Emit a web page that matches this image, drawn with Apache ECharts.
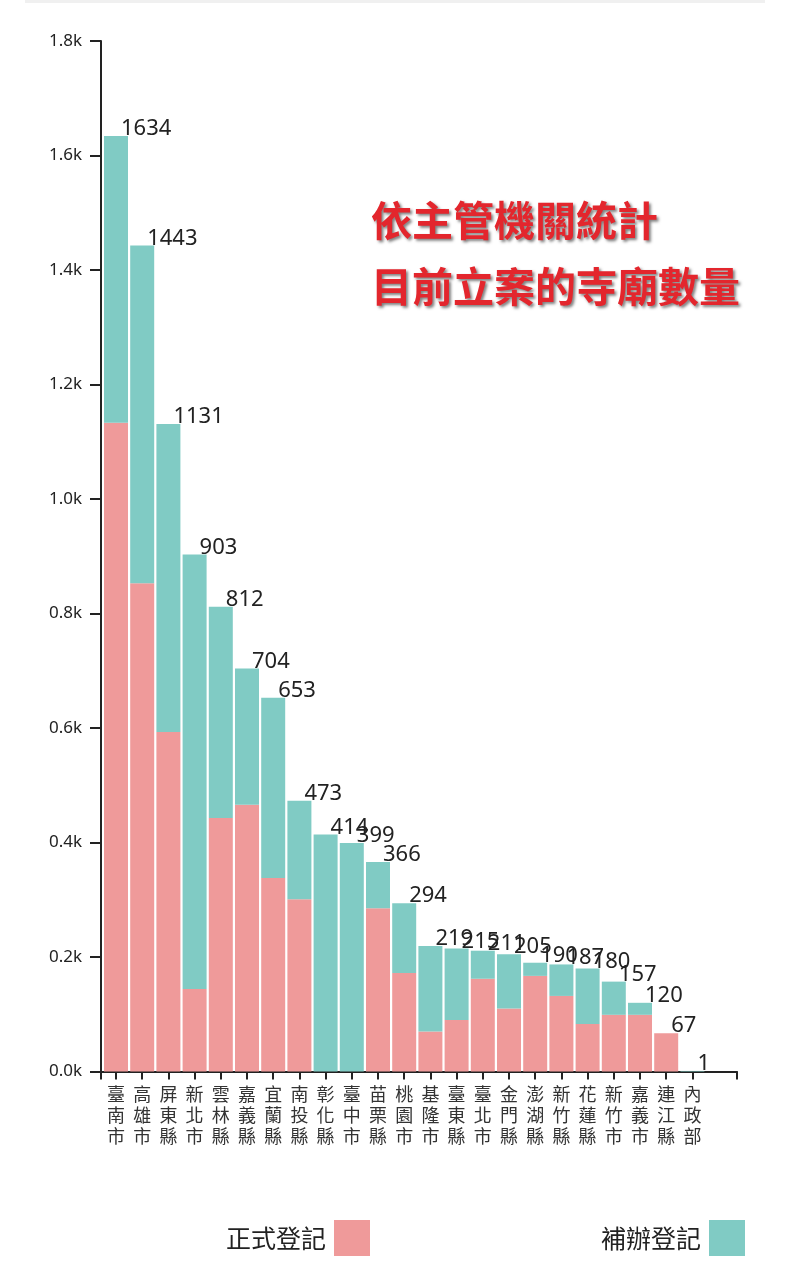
<!DOCTYPE html>
<html>
<head>
<meta charset="utf-8">
<script src="https://cdn.jsdelivr.net/npm/echarts@6/dist/echarts.min.js"></script>
<style>
  html, body { margin: 0; padding: 0; background: #fff; }
  #topline { position: absolute; left: 25px; top: 0; width: 740px; height: 3px; background: #f0f0f0; }
  #main { width: 799px; height: 1280px; }
</style>
</head>
<body>
<div id="topline"></div>
<div id="main"></div>
<script>
// 各主管機關
const categories = ['臺南市', '高雄市', '屏東縣', '新北市', '雲林縣', '嘉義縣', '宜蘭縣', '南投縣',
  '彰化縣', '臺中市', '苗栗縣', '桃園市', '基隆市', '臺東縣', '臺北市', '金門縣', '澎湖縣',
  '新竹縣', '花蓮縣', '新竹市', '嘉義市', '連江縣', '內政部'];
// 總數 (標在柱頂)
const totals = [1634, 1443, 1131, 903, 812, 704, 653, 473, 414, 399, 366, 294, 219, 215, 211,
  205, 190, 187, 180, 157, 120, 67, 1];
// 正式登記
const formal = [1133, 853, 593, 144, 443, 466, 338, 301, 0, 0, 285, 172, 70, 90, 162,
  110, 167, 132, 83, 99, 99, 67, 0];
// 補辦登記
const supplement = [501, 590, 538, 759, 369, 238, 315, 172, 414, 399, 81, 122, 149, 125, 49,
  95, 23, 55, 97, 58, 21, 0, 1];
// y 軸刻度
const yTicks = [0, 200, 400, 600, 800, 1000, 1200, 1400, 1600, 1800];

const pink = '#EF9A9A';
const teal = '#80CBC4';
const ink = '#222';

const chart = echarts.init(document.getElementById('main'));

const legendText = { fontFamily: 'Noto Sans CJK TC', fontSize: 25, color: ink, padding: [0, 3, 0, 0] };

const option = {
  animation: false,
  title: {
    text: '依主管機關統計\n目前立案的寺廟數量',
    left: 366,
    top: 182,
    textStyle: {
      fontFamily: 'Noto Sans CJK TC',
      fontSize: 41,
      fontWeight: 'bold',
      lineHeight: 66,
      color: '#e3262d',
      textShadowColor: 'rgba(0,0,0,0.5)',
      textShadowBlur: 3,
      textShadowOffsetX: 2,
      textShadowOffsetY: 2
    }
  },
  legend: [
    {
      data: ['正式登記'],
      left: 221,
      top: 1215,
      align: 'right',
      itemWidth: 36,
      itemHeight: 36,
      icon: 'rect',
      textStyle: legendText
    },
    {
      data: ['補辦登記'],
      left: 596,
      top: 1215,
      align: 'right',
      itemWidth: 36,
      itemHeight: 36,
      icon: 'rect',
      textStyle: legendText
    }
  ],
  grid: [
    // 軸框
    { left: 101, width: 636, top: 41, height: 1030.5 },
    // 柱子
    { left: 102.9, width: 602.6, top: 41, height: 1030.5 }
  ],
  xAxis: [
    {
      type: 'value',
      gridIndex: 0,
      min: 0,
      max: 1,
      interval: 1,
      axisLine: { lineStyle: { color: ink, width: 2 } },
      axisTick: { show: true, length: 8, lineStyle: { color: ink, width: 2 } },
      axisLabel: { show: false },
      splitLine: { show: false }
    },
    {
      type: 'category',
      gridIndex: 1,
      data: categories,
      axisLine: { show: false },
      axisTick: { show: true, alignWithLabel: true, length: 8, lineStyle: { color: ink, width: 2 } },
      axisLabel: {
        interval: 0,
        margin: 12,
        fontFamily: 'Noto Sans CJK TC',
        fontSize: 18,
        lineHeight: 21,
        color: '#333',
        formatter: (v) => v.split('').join('\n')
      }
    }
  ],
  yAxis: [
    {
      type: 'value',
      gridIndex: 0,
      min: yTicks[0],
      max: yTicks[yTicks.length - 1],
      interval: 200,
      axisLine: { show: true, lineStyle: { color: ink, width: 2 } },
      axisTick: { show: true, length: 11, lineStyle: { color: ink, width: 2 } },
      axisLabel: {
        margin: 19,
        fontFamily: 'Noto Sans',
        fontSize: 17,
        color: ink,
        formatter: (v) => (v / 1000).toFixed(1) + 'k'
      },
      splitLine: { show: false }
    },
    {
      type: 'value',
      gridIndex: 1,
      min: yTicks[0],
      max: yTicks[yTicks.length - 1],
      show: false
    }
  ],
  series: [
    {
      name: '正式登記',
      type: 'bar',
      xAxisIndex: 1,
      yAxisIndex: 1,
      stack: 'all',
      barWidth: 24,
      itemStyle: { color: pink },
      data: formal
    },
    {
      name: '補辦登記',
      type: 'bar',
      xAxisIndex: 1,
      yAxisIndex: 1,
      stack: 'all',
      barWidth: 24,
      itemStyle: { color: teal },
      label: {
        show: true,
        position: ['50%', 0],
        align: 'left',
        verticalAlign: 'bottom',
        offset: [5, 4],
        fontFamily: 'Noto Sans',
        fontSize: 22,
        color: ink,
        formatter: (p) => String(totals[p.dataIndex])
      },
      data: supplement
    }
  ]
};

chart.setOption(option);
</script>
</body>
</html>
